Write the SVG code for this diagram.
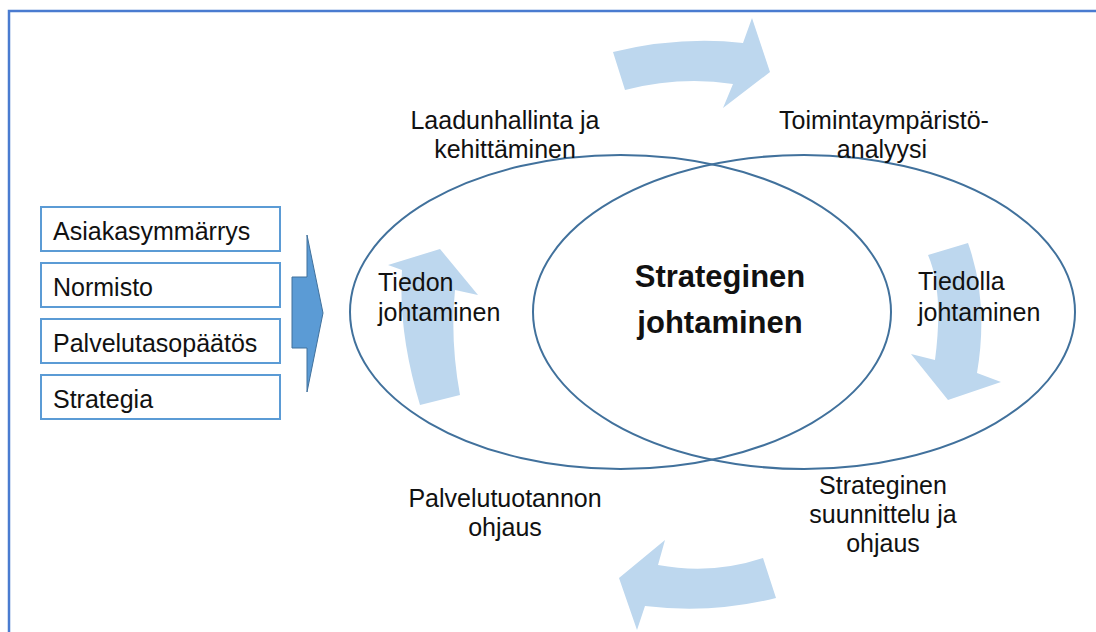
<svg xmlns="http://www.w3.org/2000/svg" width="1096" height="632" viewBox="0 0 1096 632">
  <style>
    .frame { fill: none; stroke: #4a7bd0; stroke-width: 2.5; }
    .box rect { fill: #ffffff; stroke: #5b9bd5; stroke-width: 2; }
    .lbl { font-family: "Liberation Sans", Arial, sans-serif; font-size: 25px; fill: #111111; }
    .mid { text-anchor: middle; }
    .title { font-family: "Liberation Sans", Arial, sans-serif; font-size: 31px; font-weight: bold; fill: #111111; text-anchor: middle; }
    .ring { fill: none; stroke: #41719c; stroke-width: 2; }
    .cycle { fill: #bdd7ee; }
    .input { fill: #5b9bd5; stroke: #41719c; stroke-width: 1; }
  </style>

  <!-- outer frame (top and left edges) -->
  <path class="frame" d="M9,632 L9,11 L1096,11"/>

  <!-- input boxes -->
  <g id="asiakasymmarrys" class="box">
    <rect x="41" y="207" width="239" height="44"/>
    <text class="lbl" x="53" y="240">Asiakasymmärrys</text>
  </g>
  <g id="normisto" class="box">
    <rect x="41" y="263" width="239" height="44"/>
    <text class="lbl" x="53" y="296">Normisto</text>
  </g>
  <g id="palvelutasopaatos" class="box">
    <rect x="41" y="319" width="239" height="44"/>
    <text class="lbl" x="53" y="352">Palvelutasopäätös</text>
  </g>
  <g id="strategia" class="box">
    <rect x="41" y="375" width="239" height="44"/>
    <text class="lbl" x="53" y="408">Strategia</text>
  </g>

  <!-- overlapping ellipses -->
  <g id="ellipse-left">
    <ellipse class="ring" cx="620.5" cy="312" rx="270.5" ry="157"/>
  </g>
  <g id="ellipse-right">
    <ellipse class="ring" cx="804" cy="312" rx="271" ry="157"/>
  </g>

  <!-- connectors: input arrow and cycle arrows -->
  <g id="connectors">
    <path class="input" d="M292,277 L307,277 L307,235 L323,313 L307,392 L307,348 L292,348 Z"/>
    <path class="cycle" d="M613,52 Q680,36 743,43 L752,18 L770,72 L723,108 L733,84 Q680,76 625,90 Z"/>
    <path class="cycle" d="M928,255 L968,243 Q989,302 977,373 L1001,382 L948,400 L911,354 L935,360 Q944,292 928,255 Z"/>
    <path class="cycle" d="M763,558 Q712,575 658,565 L665,540 L619,578 L637,630 L645,606 Q712,614 776,598 Z"/>
    <path class="cycle" d="M420,405 Q398,332 402,270 L388,265 L440,249 L478,295 L455,290 Q450,340 460,395 Z"/>
  </g>

  <!-- centre -->
  <g id="strateginen-johtaminen">
    <text class="title" x="720" y="287">Strateginen</text>
    <text class="title" x="720" y="333">johtaminen</text>
  </g>

  <g id="tiedon-johtaminen">
    <text class="lbl" x="378" y="291">Tiedon</text>
    <text class="lbl" x="378" y="321">johtaminen</text>
  </g>

  <g id="tiedolla-johtaminen">
    <text class="lbl" x="918" y="290">Tiedolla</text>
    <text class="lbl" x="918" y="321">johtaminen</text>
  </g>

  <g id="laadunhallinta">
    <text class="lbl mid" x="505" y="129">Laadunhallinta ja</text>
    <text class="lbl mid" x="505" y="158">kehittäminen</text>
  </g>

  <g id="toimintaymparisto">
    <text class="lbl mid" x="884" y="129">Toimintaympäristö-</text>
    <text class="lbl mid" x="882" y="158">analyysi</text>
  </g>

  <g id="palvelutuotannon-ohjaus">
    <text class="lbl mid" x="505" y="507">Palvelutuotannon</text>
    <text class="lbl mid" x="505" y="536">ohjaus</text>
  </g>

  <g id="strateginen-suunnittelu">
    <text class="lbl mid" x="883" y="494">Strateginen</text>
    <text class="lbl mid" x="883" y="523">suunnittelu ja</text>
    <text class="lbl mid" x="883" y="552">ohjaus</text>
  </g>
</svg>
